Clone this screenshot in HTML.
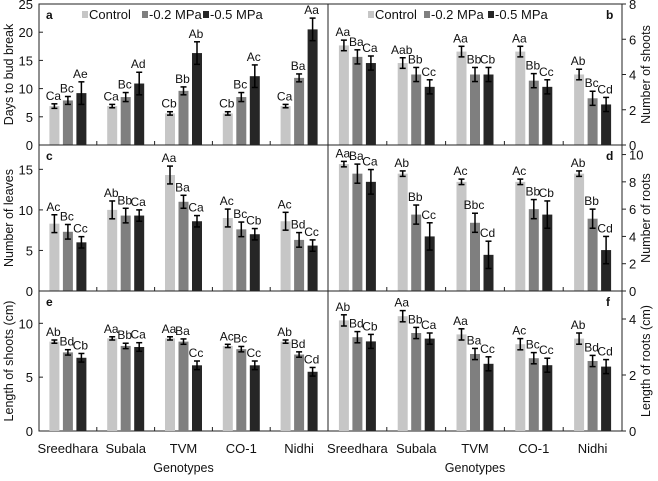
<!DOCTYPE html>
<html><head><meta charset="utf-8"><style>
body{margin:0;background:#fff;width:658px;height:476px;overflow:hidden}
svg text{font-family:"Liberation Sans",sans-serif;fill:#111}
</style></head><body>
<svg id="chart" width="658" height="476" viewBox="0 0 658 476" xmlns="http://www.w3.org/2000/svg"></svg>
<script>
const genotypes=["Sreedhara","Subala","TVM","CO-1","Nidhi"];
const seriesNames=["Control","-0.2 MPa","-0.5 MPa"];
const aVals=[[6.9,7.9,9.2],[6.9,8.5,10.9],[5.6,9.6,16.3],[5.6,8.5,12.2],[6.9,11.9,20.5]];
const aErr=[[0.4,0.7,2],[0.3,0.8,2],[0.3,0.7,2],[0.3,0.8,2],[0.3,0.7,2]];
const aLbl=[["Ca","Bc","Ae"],["Ca","Bc","Ad"],["Cb","Bb","Ab"],["Cb","Bc","Ac"],["Ca","Ba","Aa"]];
const bVals=[[5.65,5.0,4.65],[4.65,4.0,3.3],[5.3,4.0,4.0],[5.3,3.65,3.3],[4.0,2.65,2.3]];
const bErr=[[0.3,0.4,0.4],[0.3,0.4,0.4],[0.3,0.4,0.4],[0.3,0.4,0.4],[0.3,0.4,0.4]];
const bLbl=[["Aa","Ba","Ca"],["Aab","Bb","Cc"],["Aa","Bb","Cb"],["Aa","Bb","Cc"],["Ab","Bc","Cd"]];
const cVals=[[8.3,7.3,6.0],[10.0,9.3,9.3],[14.3,11.0,8.6],[9.0,7.6,7.0],[8.6,6.3,5.6]];
const cErr=[[1.1,0.9,0.7],[1.1,0.9,0.7],[1.1,0.8,0.7],[1.1,0.9,0.7],[1.1,0.9,0.7]];
const cLbl=[["Ac","Bc","Cc"],["Ab","Bb","Ca"],["Aa","Ba","Ca"],["Ac","Bc","Cb"],["Ac","Bd","Cc"]];
const dVals=[[9.3,8.6,8.0],[8.6,5.6,4.0],[8.0,5.0,2.65],[8.0,6.0,5.6],[8.6,5.3,3.0]];
const dErr=[[0.2,0.7,0.9],[0.2,0.7,1.0],[0.2,0.7,1.0],[0.2,0.7,1.0],[0.2,0.7,1.0]];
const dLbl=[["Aa","Ba","Ca"],["Ab","Bb","Cc"],["Ac","Bbc","Cd"],["Ac","Bb","Cb"],["Ab","Bb","Cd"]];
const eVals=[[8.3,7.3,6.8],[8.6,7.9,7.8],[8.6,8.3,6.1],[7.9,7.6,6.1],[8.3,7.1,5.5]];
const eErr=[[0.15,0.25,0.4],[0.15,0.25,0.4],[0.15,0.25,0.4],[0.15,0.25,0.4],[0.15,0.25,0.4]];
const eLbl=[["Ab","Bd","Cb"],["Aa","Bb","Ca"],["Aa","Ba","Cc"],["Ac","Bc","Cc"],["Ab","Bd","Cd"]];
const fVals=[[3.95,3.35,3.2],[4.1,3.5,3.3],[3.45,2.75,2.4],[3.1,2.6,2.35],[3.3,2.5,2.3]];
const fErr=[[0.2,0.2,0.25],[0.2,0.2,0.2],[0.2,0.2,0.25],[0.2,0.2,0.25],[0.2,0.2,0.25]];
const fLbl=[["Ab","Bd","Cb"],["Aa","Bb","Ca"],["Aa","Ba","Cc"],["Ac","Bc","Cc"],["Ab","Bd","Cd"]];
const aTicks=[0,5,10,15,20,25], bTicks=[0,2,4,6,8], cTicks=[0,5,10,15], dTicks=[0,2,4,6,8,10], eTicks=[0,5,10], fTicks=[0,2,4];

const NS="http://www.w3.org/2000/svg";
const svg=document.getElementById("chart");
const colors=["#c6c6c6","#7f7f7f","#262626"];
function mk(tag,at,parent){const e=document.createElementNS(NS,tag);for(const k in at)e.setAttribute(k,at[k]);(parent||svg).appendChild(e);return e;}
function txt(s,at,parent){const t=mk("text",at,parent);t.textContent=s;return t;}

const panels=[
 {id:"a",x0:39,x1:328,y0:4,y1:145,max:25,vals:aVals,err:aErr,lbl:aLbl,ticks:aTicks,side:"left",title:"Days to bud break",legend:true},
 {id:"b",x0:328,x1:622,y0:4,y1:145,max:8,vals:bVals,err:bErr,lbl:bLbl,ticks:bTicks,side:"right",title:"Number of shoots",legend:true},
 {id:"c",x0:39,x1:328,y0:145,y1:291,max:18,vals:cVals,err:cErr,lbl:cLbl,ticks:cTicks,side:"left",title:"Number of leaves"},
 {id:"d",x0:328,x1:622,y0:145,y1:291,max:10.7,vals:dVals,err:dErr,lbl:dLbl,ticks:dTicks,side:"right",title:"Number of roots"},
 {id:"e",x0:39,x1:328,y0:291,y1:431,max:13,vals:eVals,err:eErr,lbl:eLbl,ticks:eTicks,side:"left",title:"Length of shoots (cm)",cats:true},
 {id:"f",x0:328,x1:622,y0:291,y1:431,max:5.0,vals:fVals,err:fErr,lbl:fLbl,ticks:fTicks,side:"right",title:"Length of roots (cm)",cats:true}
];

panels.forEach(p=>{
  const g=mk("g",{});
  
  
  const y=v=>p.y1-(v/p.max)*(p.y1-p.y0);
  const gw=(p.x1-p.x0)/genotypes.length;
  const bw=10, step=13.5;
  const xc=i=>p.x0+gw*(i+0.5);
  const fr=mk("rect",{x:p.x0,y:p.y0,width:p.x1-p.x0,height:p.y1-p.y0,fill:"none",stroke:"#222","stroke-width":1},g);
  
  
  for(let i=1;i<genotypes.length;i++){const X=p.x0+gw*i;mk("line",{x1:X,x2:X,y1:p.y1,y2:p.y1-4,stroke:"#222"},g);}
  p.ticks.forEach(t=>{
    const Y=y(t);
    if(p.side==="left"){
      mk("line",{x1:p.x0,x2:p.x0+4,y1:Y,y2:Y,stroke:"#222"},g);
      const tl=txt(String(t),{x:p.x0-6,y:Y+5,"text-anchor":"end","font-size":13},g);
      
      
    } else {
      mk("line",{x1:p.x1,x2:p.x1+4,y1:Y,y2:Y,stroke:"#222"},g);
      const tl=txt(String(t),{x:p.x1+7,y:Y+5,"text-anchor":"start","font-size":13},g);
      
      
    }
  });
  const cy=(p.y0+p.y1)/2;
  const tx=p.side==="left"?13:650;
  const tt=txt(p.title,{x:tx,y:cy,"text-anchor":"middle","font-size":12.5,transform:`rotate(-90 ${tx} ${cy})`},g);
  
  
  const lx=p.side==="left"?p.x0+7:p.x1-16;
  const pl=txt(p.id,{x:lx,y:p.y0+15,"font-size":12,"font-weight":"bold"},g);
  
  
  p.vals.forEach((row,i)=>{
    row.forEach((v,s)=>{
      const cx=xc(i)+(s-1)*step;
      const top=y(v);
      const r=mk("rect",{x:cx-bw/2,y:top,width:bw,height:p.y1-top,fill:colors[s]},g);
      
      
      const e=p.err[i][s], yt=y(v+e), yb=y(v-e);
      mk("line",{x1:cx,x2:cx,y1:yt,y2:yb,stroke:"#000","stroke-width":1.5},g);
      mk("line",{x1:cx-3,x2:cx+3,y1:yt,y2:yt,stroke:"#000","stroke-width":1.5},g);
      mk("line",{x1:cx-3,x2:cx+3,y1:yb,y2:yb,stroke:"#000","stroke-width":1.5},g);
      const lt=txt(p.lbl[i][s],{x:cx-1,y:yt-4,"text-anchor":"middle","font-size":12},g);
      
      
    });
    if(p.cats){
      const ct=txt(genotypes[i],{x:xc(i),y:453,"text-anchor":"middle","font-size":13},g);
      
      
    }
  });
  if(p.cats){
    const xt=txt("Genotypes",{x:(p.x0+p.x1)/2,y:472,"text-anchor":"middle","font-size":12.5},g);
    
    
  }
  if(p.legend){
    const lx0=p.side==="left"?[82,142,203]:[368,424,488];
    seriesNames.forEach((n,s)=>{
      const le=mk("g",{},g);
      
      
      mk("rect",{x:lx0[s],y:p.y0+7,width:6,height:7,fill:colors[s]},le);
      txt(n,{x:lx0[s]+7,y:p.y0+15,"font-size":13},le);
    });
  }
});
</script>
</body></html>
